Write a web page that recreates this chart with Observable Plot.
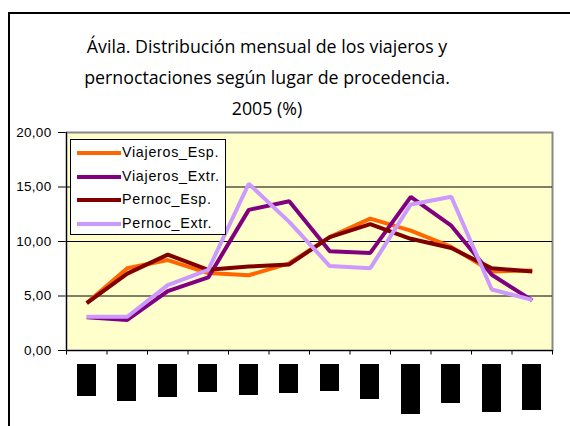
<!DOCTYPE html>
<html>
<head>
<meta charset="utf-8">
<script src="https://cdn.jsdelivr.net/npm/d3@7"></script>
<script src="https://cdn.jsdelivr.net/npm/@observablehq/plot@0.6"></script>
<style>
  html, body { margin: 0; padding: 0; background: #fff; }
  #wrap { position: relative; width: 570px; height: 426px; overflow: hidden; }
  #frame { position: absolute; left: 8px; top: 12px; width: 700px; height: 600px; border: 2px solid #000; }
  #title { position: absolute; left: 0; top: 31px; width: 534px; text-align: center;
           font-family: "Open Sans", sans-serif; font-size: 17.8px; line-height: 31px; color: #000; }
  #chart { position: absolute; left: 0; top: 0; }
  #legend { position: absolute; left: 70px; top: 139px; width: 156px; height: 96px; box-sizing: border-box;
            background: #fff; border: 1px solid #000; font-family: "Liberation Sans", Arial, sans-serif;
            font-size: 14.3px; letter-spacing: 0.7px; }
  .row { position: relative; height: 23.7px; }
  .sw { position: absolute; left: 6px; top: 11px; width: 44px; height: 4px; }
  .lb { position: absolute; left: 51px; top: 4px; line-height: 17px; white-space: nowrap; }
  .mlab { position: absolute; top: 364px; width: 19px; line-height: 19px; writing-mode: vertical-rl;
          background: #000; color: #000; font-family: "DejaVu Sans", sans-serif; font-size: 6.2px;
          padding: 7px 0; white-space: nowrap; }
</style>
</head>
<body>
<div id="wrap">
  <div id="frame"></div>
  <div id="title"></div>
  <div id="chart"></div>
  <div id="legend"></div>
  <div id="mlabels"></div>
</div>
<script>
const titleLines = ["Ávila. Distribución mensual de los viajeros y", "pernoctaciones según lugar de procedencia.", "2005 (%)"];
const months = ["Enero", "Febrero", "Marzo", "Abril", "Mayo", "Junio", "Julio", "Agosto", "Septiembre", "Octubre", "Noviembre", "Diciembre"];
const seriesNames = ["Viajeros_Esp.", "Viajeros_Extr.", "Pernoc_Esp.", "Pernoc_Extr."];
const seriesColors = ["#FF6600", "#800080", "#800000", "#CC99FF"];
const viajerosEsp = [4.35, 7.55, 8.3, 7.1, 6.9, 8.0, 10.4, 12.1, 11.0, 9.5, 7.25, 7.35];
const viajerosExtr = [3.05, 2.8, 5.45, 6.7, 12.9, 13.7, 9.1, 8.95, 14.1, 11.45, 6.95, 4.6];
const pernocEsp = [4.35, 7.05, 8.8, 7.4, 7.7, 7.9, 10.4, 11.6, 10.25, 9.4, 7.55, 7.25];
const pernocExtr = [3.1, 3.1, 6.0, 7.4, 15.3, 11.8, 7.75, 7.55, 13.4, 14.1, 5.6, 4.65];
const yTicks = [0, 5, 10, 15, 20];

document.getElementById("title").innerHTML = titleLines.map(t => `<div>${t}</div>`).join("");

const allSeries = [viajerosEsp, viajerosExtr, pernocEsp, pernocExtr];
const rows = [];
allSeries.forEach((vals, s) => vals.forEach((v, i) => rows.push({series: seriesNames[s], i, month: months[i], value: v})));
const bounds = d3.range(months.length + 1).map(k => k - 0.5);

const plot = Plot.plot({
  width: 570,
  height: 426,
  marginLeft: 66,
  marginRight: 18,
  marginTop: 132,
  marginBottom: 76,
  style: {fontFamily: "Liberation Sans, Arial, sans-serif", fontSize: "13.5px", color: "#000", background: "transparent", overflow: "visible", letterSpacing: "0.3px"},
  x: {type: "linear", domain: [-0.5, months.length - 0.5], axis: null},
  y: {domain: [0, 20], ticks: yTicks, tickFormat: d => d.toFixed(2).replace(".", ","), tickSize: 8, tickPadding: 7, label: null},
  color: {domain: seriesNames, range: seriesColors},
  marks: [
    Plot.frame({fill: "#FFFFCC", stroke: "#888", strokeWidth: 2}),
    Plot.ruleY([5, 10, 15], {stroke: "#000", strokeWidth: 1}),
    Plot.ruleY([0], {stroke: "#000", strokeWidth: 1}),
    Plot.ruleX([-0.5], {stroke: "#000", strokeWidth: 1}),
    Plot.ruleX(bounds, {y1: 0, y2: -0.42, stroke: "#000", strokeWidth: 1}),
    Plot.line(rows, {x: "i", y: "value", z: "series", stroke: "series", strokeWidth: 4, strokeLinejoin: "miter", strokeLinecap: "butt"})
  ]
});
document.getElementById("chart").appendChild(plot);

// month tick labels, rendered (as in the reference) as black blocks, positioned with Plot's x scale
const xs = plot.scale("x");
const ml = document.getElementById("mlabels");
months.forEach((m, i) => {
  const d = document.createElement("div");
  d.className = "mlab";
  d.textContent = m;
  d.style.left = (xs.apply(i) - 9.5) + "px";
  ml.appendChild(d);
});

document.getElementById("legend").innerHTML = seriesNames.map((n, k) =>
  `<div class="row"><div class="sw" style="background:${seriesColors[k]}"></div><div class="lb">${n}</div></div>`).join("");
</script>
</body>
</html>
